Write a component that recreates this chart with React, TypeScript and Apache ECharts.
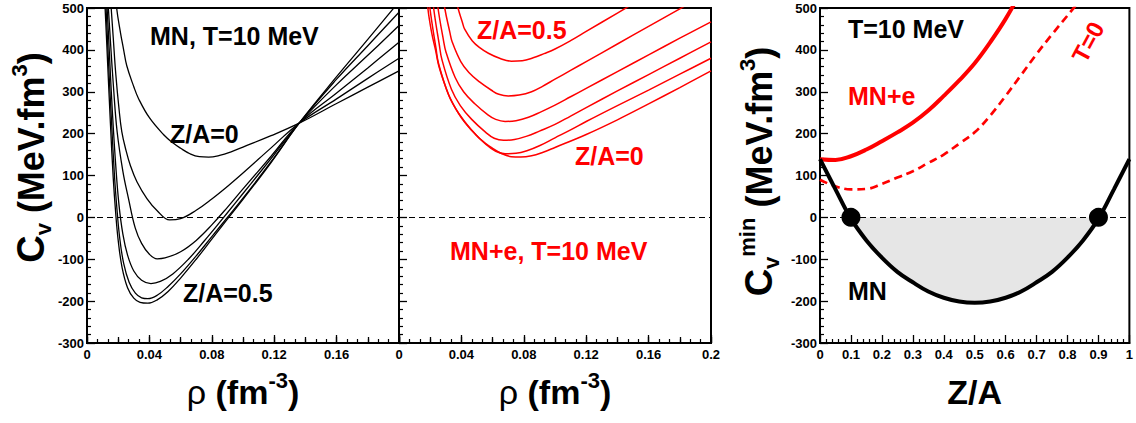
import React, { useEffect, useRef } from 'react';
import * as echarts from 'echarts';

type Pt = [number, number];

// ---------- Panel 1: MN, T=10 MeV  (C_v vs rho) ----------
const mnZA0: Pt[] = [[0.017,590],[0.019,500],[0.0215,440],[0.0234,402],[0.0255,362],[0.03,312],[0.033,284],[0.04,238],[0.049,198],[0.055,178],[0.06,165],[0.066,152],[0.072,145],[0.078,144],[0.085,148],[0.092,156],[0.1,168],[0.118,195],[0.136,225],[0.16,272],[0.18,311],[0.2,350]];
const mnZA1: Pt[] = [[0.0135,610],[0.0155,500],[0.0168,430],[0.0185,340],[0.0205,260],[0.0223,205],[0.025,160],[0.0277,125],[0.032,85],[0.0384,45],[0.045,16],[0.053,-6],[0.06,-3],[0.07,17],[0.08,44],[0.09,74],[0.1,106],[0.118,166],[0.136,225],[0.16,283],[0.18,332],[0.2,380]];
const mnZA2: Pt[] = [[0.0118,610],[0.0137,500],[0.0152,410],[0.017,310],[0.0193,205],[0.023,110],[0.0266,45],[0.0309,-25],[0.035,-62],[0.04,-88],[0.045,-99],[0.05,-97],[0.06,-82],[0.07,-55],[0.08,-18],[0.09,24],[0.1,68],[0.118,146],[0.136,225],[0.16,297],[0.18,357],[0.2,418]];
const mnZA3: Pt[] = [[0.011,610],[0.0129,500],[0.0145,380],[0.0163,250],[0.0185,120],[0.0205,30],[0.023,-40],[0.026,-90],[0.03,-128],[0.035,-150],[0.041,-158],[0.047,-153],[0.055,-135],[0.065,-100],[0.075,-57],[0.085,-12],[0.095,34],[0.105,80],[0.12,150],[0.136,225],[0.16,317],[0.18,387],[0.2,458]];
const mnZA4: Pt[] = [[0.0105,610],[0.0122,500],[0.0138,370],[0.0157,230],[0.0176,100],[0.0192,20],[0.021,-50],[0.0235,-110],[0.027,-155],[0.031,-181],[0.035,-192],[0.039,-194],[0.045,-186],[0.052,-165],[0.06,-135],[0.07,-92],[0.08,-46],[0.09,0],[0.1,46],[0.118,133],[0.136,225],[0.16,330],[0.18,410],[0.2,490]];
const mnZA5: Pt[] = [[0.01,610],[0.0116,500],[0.0132,370],[0.015,225],[0.0168,95],[0.0184,10],[0.02,-55],[0.0225,-120],[0.026,-168],[0.03,-193],[0.034,-203],[0.039,-205],[0.045,-197],[0.052,-177],[0.06,-145],[0.07,-100],[0.08,-52],[0.09,-4],[0.1,43],[0.118,131],[0.136,225],[0.16,336],[0.18,425],[0.2,515]];

// ---------- Panel 2: MN+e, T=10 MeV ----------
const mneZA0: Pt[] = [[0.0168,590],[0.0185,500],[0.021,440],[0.0234,400],[0.0255,362],[0.03,310],[0.033,283],[0.04,238],[0.049,198],[0.055,178],[0.06,165],[0.066,152],[0.072,145],[0.078,144],[0.085,147],[0.092,155],[0.1,167],[0.12,198],[0.14,233],[0.16,271],[0.18,310],[0.2,350]];
const mneZA1: Pt[] = [[0.018,570],[0.0198,500],[0.0237,404],[0.0255,365],[0.0321,290],[0.0383,248],[0.0462,210],[0.0558,174],[0.062,158],[0.068,152],[0.075,153],[0.082,159],[0.09,171],[0.1,190],[0.11,209],[0.12,229],[0.14,267],[0.16,304],[0.18,342],[0.2,380]];
const mneZA2: Pt[] = [[0.0205,570],[0.0222,500],[0.0258,413],[0.0275,377],[0.0336,306],[0.0393,267],[0.0466,234],[0.0556,203],[0.061,189],[0.067,184],[0.074,186],[0.082,194],[0.09,206],[0.1,222],[0.11,242],[0.12,262],[0.14,302],[0.16,341],[0.18,380],[0.2,419]];
const mneZA3: Pt[] = [[0.0233,560],[0.025,500],[0.0284,425],[0.0301,395],[0.036,334],[0.0414,300],[0.0484,272],[0.057,245],[0.062,234],[0.068,229],[0.075,231],[0.083,239],[0.091,252],[0.1,268],[0.11,288],[0.12,308],[0.14,348],[0.16,388],[0.18,428],[0.2,467]];
const mneZA4: Pt[] = [[0.0275,550],[0.0293,500],[0.0326,442],[0.0341,419],[0.0396,372],[0.0448,346],[0.0514,324],[0.0595,303],[0.064,294],[0.07,290],[0.077,292],[0.085,300],[0.092,313],[0.1,330],[0.11,351],[0.12,372],[0.14,414],[0.16,456],[0.18,498],[0.2,540]];
const mneZA5: Pt[] = [[0.036,530],[0.0378,500],[0.0407,465],[0.042,450],[0.0469,422],[0.0515,406],[0.0573,392],[0.0645,380],[0.072,373],[0.079,374],[0.086,381],[0.093,391],[0.1,402],[0.11,422],[0.12,444],[0.14,488],[0.16,532]];

// ---------- Panel 3: C_v^min vs Z/A ----------
const zaValues = [0,0.05,0.1,0.15,0.2,0.25,0.3,0.35,0.4,0.45,0.5,0.55,0.6,0.65,0.7,0.75,0.8,0.85,0.9,0.95,1];
const cminMN = [139,67,-3,-55,-96,-130,-155,-177,-192,-201,-204,-201,-192,-177,-155,-130,-96,-55,-3,67,139];
const cminMNe: Pt[] = [[0,139],[0.05,137],[0.1,146],[0.15,162],[0.2,182],[0.25,203],[0.3,226],[0.35,255],[0.4,290],[0.45,327],[0.5,368],[0.55,418],[0.6,474],[0.65,540]];
const cminT0: Pt[] = [[0,90],[0.05,74],[0.1,67],[0.15,68],[0.2,80],[0.25,95],[0.3,110],[0.35,130],[0.4,150],[0.45,176],[0.5,203],[0.55,243],[0.6,290],[0.65,340],[0.7,390],[0.75,437],[0.8,482],[0.85,527]];
const instabilityEdges: Pt[] = [[0.1,0],[0.9,0]];

const FONT = '"Liberation Sans", Arial, Helvetica, sans-serif';
const BLACK = '#000000';
const RED = '#ff0000';

const titleRich = {
  m: { fontSize: 36, fontWeight: 'bold', fontFamily: FONT, color: BLACK, lineHeight: 46 },
  x: { fontSize: 34, fontWeight: 'bold', fontFamily: FONT, color: BLACK, lineHeight: 46 },
  c: { fontSize: 38, fontWeight: 'bold', fontFamily: FONT, color: BLACK, lineHeight: 46 },
  g: { fontSize: 34, fontWeight: 'normal', fontFamily: FONT, color: BLACK, lineHeight: 46 },
  sub: { fontSize: 22, fontWeight: 'bold', fontFamily: FONT, color: BLACK, verticalAlign: 'bottom' },
  sup: { fontSize: 22, fontWeight: 'bold', fontFamily: FONT, color: BLACK, verticalAlign: 'top' },
};

const labelStyle = { color: BLACK, fontSize: 13, fontWeight: 'bold', fontFamily: FONT };

function fmt(v: number) {
  return String(+v.toFixed(2));
}

function xMain(grid: number, max: number, interval: number, minorSplit: number, hideMax: boolean, name: string) {
  return {
    type: 'value', gridIndex: grid, min: 0, max, interval, position: 'bottom',
    axisLine: { show: true, onZero: false, lineStyle: { color: BLACK, width: 2 } },
    axisTick: { show: true, inside: true, length: 8, lineStyle: { color: BLACK, width: 1.3 } },
    minorTick: { show: true, splitNumber: minorSplit, length: 4, lineStyle: { color: BLACK, width: 1.2 } },
    splitLine: { show: false }, minorSplitLine: { show: false },
    axisLabel: { ...labelStyle, margin: 5, formatter: (v: number) => (hideMax && Math.abs(v - max) < 1e-9 ? '' : fmt(v)) },
    name, nameLocation: 'middle', nameGap: 26, nameTextStyle: { rich: titleRich },
  };
}

function xMid(grid: number) {
  return {
    type: 'value', gridIndex: grid, min: 0, max: 0.2, interval: 0.02, position: 'bottom',
    axisLine: { show: false, onZero: false },
    axisTick: { show: true, inside: true, length: 6, lineStyle: { color: BLACK, width: 1.3 } },
    axisLabel: { show: false }, splitLine: { show: false },
  };
}

function yMain(grid: number, showLabels: boolean, name: string, gap: number, shiftUp: number) {
  return {
    type: 'value', gridIndex: grid, min: -300, max: 500, interval: 100,
    axisLine: { show: true, onZero: false, lineStyle: { color: BLACK, width: 2 } },
    axisTick: { show: true, inside: true, length: 8, lineStyle: { color: BLACK, width: 1.3 } },
    minorTick: { show: true, splitNumber: 5, length: 4, lineStyle: { color: BLACK, width: 1.2 } },
    splitLine: { show: false }, minorSplitLine: { show: false },
    axisLabel: { ...labelStyle, show: showLabels, margin: 3 },
    name, nameLocation: 'middle', nameRotate: 90, nameGap: gap,
    nameTextStyle: { rich: titleRich, padding: [0, 0, 0, shiftUp * 2] },
  };
}

const zeroLine = {
  silent: true, symbol: ['none', 'none'], label: { show: false },
  lineStyle: { color: BLACK, width: 1, type: [6, 4] },
  data: [{ yAxis: 0 }],
};

function curve(data: Pt[], idx: number, color: string, width: number, extra: any = {}) {
  return {
    type: 'line', xAxisIndex: idx, yAxisIndex: idx, data, showSymbol: false, symbol: 'none',
    smooth: 0.4, clip: true, silent: true,
    lineStyle: { color, width }, z: 3, ...extra,
  };
}

function txt(text: string, x: number, y: number, color: string, size = 25, extra: any = {}) {
  return {
    type: 'text', x, y, silent: true, ...extra,
    style: { text, fill: color, font: `bold ${size}px ${FONT}`, textAlign: 'left', textVerticalAlign: 'middle', ...(extra.style || {}) },
  };
}

export default function App() {
  const ref = useRef<HTMLDivElement>(null);
  useEffect(() => {
    if (!ref.current) return;
    const chart = echarts.init(ref.current, undefined, { renderer: 'svg' });
    const mnPairs: Pt[] = zaValues.map((z, i) => [z, cminMN[i]] as Pt);
    const fillPairs = mnPairs.filter(p => p[0] >= 0.1 - 1e-9 && p[0] <= 0.9 + 1e-9);
    const rhoName = '{g|ρ}{x| (fm}{sup|-3}{x|)}';
    chart.setOption({
      animation: false,
      backgroundColor: '#ffffff',
      grid: [
        { left: 87, top: 8, width: 312, height: 335, show: true, borderColor: BLACK, borderWidth: 2, backgroundColor: 'transparent' },
        { left: 399, top: 8, width: 312, height: 335, show: true, borderColor: BLACK, borderWidth: 2, backgroundColor: 'transparent' },
        { left: 820, top: 8, width: 314, height: 335, show: true, borderColor: BLACK, borderWidth: 2, backgroundColor: 'transparent' },
      ],
      xAxis: [
        xMain(0, 0.2, 0.04, 6, true, rhoName),
        xMain(1, 0.2, 0.04, 6, false, rhoName),
        xMain(2, 1, 0.1, 5, false, '{x|Z/A}'),
        xMid(0),
        xMid(1),
      ],
      yAxis: [
        yMain(0, true, '{c|C}{sub|v}{m| (MeV.fm}{sup|3}{m|)}', 30, 18),
        yMain(1, false, '', 0, 0),
        yMain(2, true, '{c|C}{sub|v}{sup|min}{m| (MeV.fm}{sup|3}{m|)}', 38, 4),
      ],
      series: [
        curve(mnZA0, 0, BLACK, 1.3, { markLine: zeroLine }),
        curve(mnZA1, 0, BLACK, 1.3),
        curve(mnZA2, 0, BLACK, 1.3),
        curve(mnZA3, 0, BLACK, 1.3),
        curve(mnZA4, 0, BLACK, 1.3),
        curve(mnZA5, 0, BLACK, 1.3),
        curve(mneZA0, 1, RED, 1.5, { markLine: zeroLine }),
        curve(mneZA1, 1, RED, 1.5),
        curve(mneZA2, 1, RED, 1.5),
        curve(mneZA3, 1, RED, 1.5),
        curve(mneZA4, 1, RED, 1.5),
        curve(mneZA5, 1, RED, 1.5),
        curve(fillPairs, 2, BLACK, 0, { z: 1, lineStyle: { width: 0, opacity: 0 }, areaStyle: { color: '#e6e6e6', opacity: 1, origin: 'auto' }, markLine: zeroLine }),
        curve(cminT0, 2, RED, 2.7, { lineStyle: { color: RED, width: 2.7, type: [8, 5] } }),
        curve(cminMNe, 2, RED, 4),
        curve(mnPairs, 2, BLACK, 4),
        {
          type: 'scatter', xAxisIndex: 2, yAxisIndex: 2, data: instabilityEdges, symbol: 'circle', symbolSize: 19,
          itemStyle: { color: BLACK, opacity: 1 }, silent: true, z: 6,
        },
      ],
      graphic: [
        txt('MN, T=10 MeV', 150, 36, BLACK),
        txt('Z/A=0', 170, 134, BLACK),
        txt('Z/A=0.5', 183, 293, BLACK),
        txt('Z/A=0.5', 477, 30, RED),
        txt('Z/A=0', 575, 156, RED),
        txt('MN+e, T=10 MeV', 450, 251, RED),
        txt('T=10 MeV', 848, 29, BLACK),
        txt('MN+e', 848, 96, RED),
        txt('MN', 848, 291, BLACK),
        txt('T=0', 1088, 42, RED, 24, { rotation: (62 * Math.PI) / 180, style: { textAlign: 'center' } }),
      ],
    });
    return () => chart.dispose();
  }, []);
  return <div ref={ref} style={{ position: 'absolute', left: 0, top: 0, width: 1136, height: 423 }} />;
}
